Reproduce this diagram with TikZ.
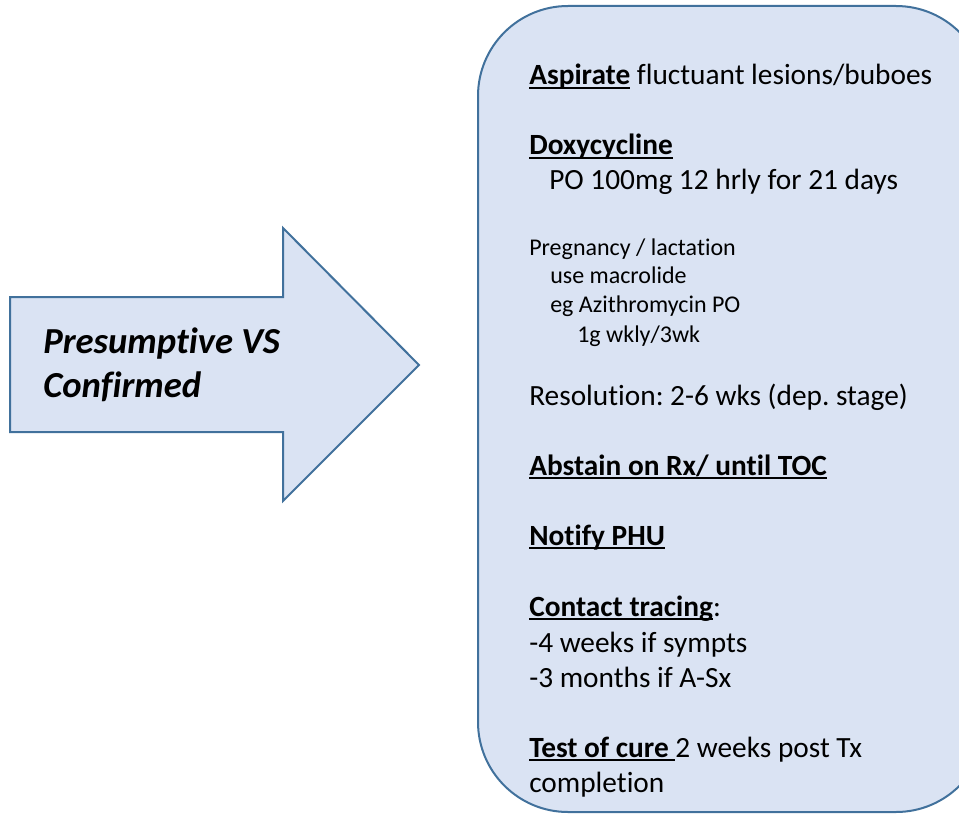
\documentclass[tikz,border=0pt]{standalone}
\usepackage{fontspec}
\setmainfont{Carlito}[Ligatures=NoCommon]
\frenchspacing
\definecolor{boxfill}{HTML}{DAE3F3}
\definecolor{boxline}{HTML}{41719C}
\newlength\ulw
\newcommand\ulbox[1]{\settowidth\ulw{#1}\rlap{\rule[-0.13em]{\ulw}{0.07em}}#1}

\begin{document}
\begin{tikzpicture}[x=0.75pt,y=-0.75pt,
  shapeline/.style={fill=boxfill,draw=boxline,line width=1.5pt},
  big/.style={anchor=base west,inner sep=0pt,font=\fontsize{22}{27}\selectfont},
  small/.style={anchor=base west,inner sep=0pt,font=\fontsize{18}{22}\selectfont},
  arrowtext/.style={anchor=base west,inner sep=0pt,font=\fontsize{27.5}{33}\selectfont\bfseries\itshape}]
\useasboundingbox (0,0) rectangle (959,813);
\clip (0,0) rectangle (959,813);
\draw[shapeline] (10,297) -- (283,297) -- (283,228) -- (419,365) -- (283,501) -- (283,432) -- (10,432) -- cycle;
\draw[shapeline,rounded corners=67.5pt] (478,6) rectangle (986,812);
\node[arrowtext] (pres) at (43,353) {Presumptive VS};
\node[arrowtext] (conf) at (43,397) {Confirmed};
\node[big] (asp) at (529,85) {\ulbox{\textbf{Aspirate}} fluctuant lesions/buboes};
\node[big] (doxy) at (529,155) {\ulbox{\textbf{Doxycycline}}};
\node[big] (po) at (549,190) {PO 100mg 12 hrly for 21 days};
\node[small] (preg) at (529,255) {Pregnancy / lactation};
\node[small] (macro) at (550,283) {use macrolide};
\node[small] (azi) at (550,312) {eg Azithromycin PO};
\node[small] (dose) at (577,342) {1g wkly/3wk};
\node[big] (res) at (529,405) {Resolution: 2-6 wks (dep. stage)};
\node[big] (abst) at (529,475) {\ulbox{\textbf{Abstain on Rx/ until TOC}}};
\node[big] (phu) at (529,545) {\ulbox{\textbf{Notify PHU}}};
\node[big] (ct) at (529,616) {\ulbox{\textbf{Contact tracing}}:};
\node[big] (wk) at (529,652) {-4 weeks if sympts};
\node[big] (mo) at (529,687) {-3 months if A-Sx};
\node[big] (toc) at (529,757) {\ulbox{\textbf{Test of cure }}2 weeks post Tx};
\node[big] (comp) at (529,792) {completion};
\end{tikzpicture}
\end{document}
